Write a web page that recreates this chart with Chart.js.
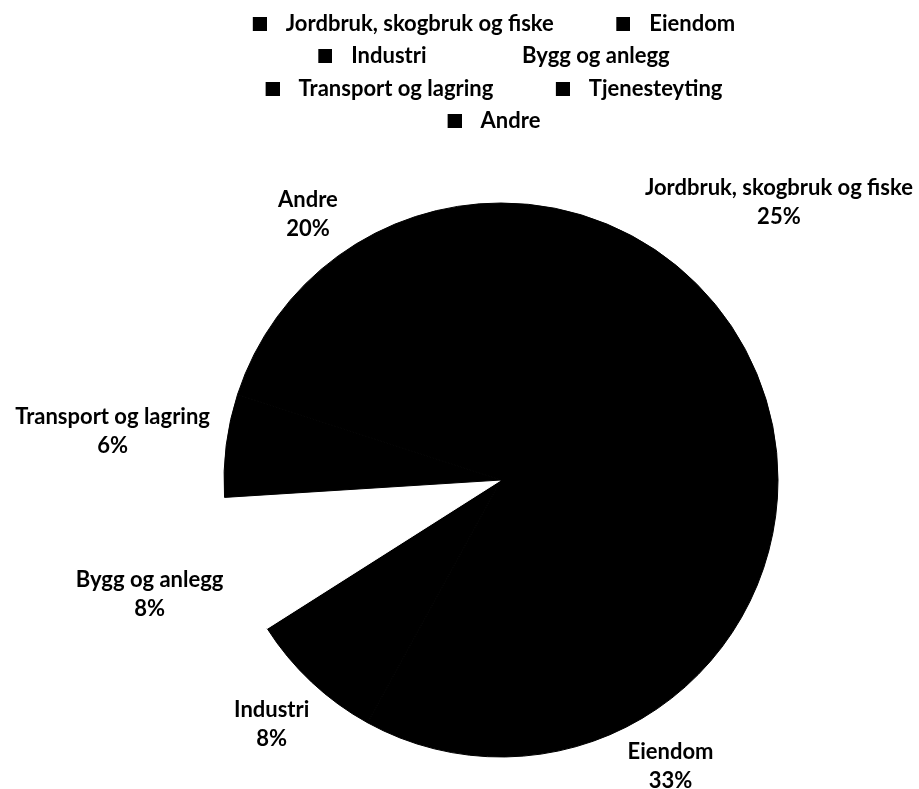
<!DOCTYPE html>
<html>
<head>
<meta charset="utf-8">
<script src="https://cdn.jsdelivr.net/npm/chart.js@4/dist/chart.umd.min.js"></script>
<style>
  html, body { margin: 0; padding: 0; background: #ffffff; }
  canvas { display: block; }
</style>
</head>
<body>
<canvas id="chart" width="919" height="789"></canvas>
<script>
// Sektorfordeling (andel i prosent)
const categories = [
  'Jordbruk, skogbruk og fiske',
  'Eiendom',
  'Industri',
  'Bygg og anlegg',
  'Transport og lagring',
  'Tjenesteyting',
  'Andre'
];
const shares = [25, 33, 8, 8, 6, 0, 20];
const sliceColors = ['#000000', '#000000', '#000000', '#ffffff', '#000000', '#000000', '#000000'];

const FONT_FAMILY = 'Lato, "Open Sans", sans-serif';
const FONT_SIZE = 22;

// Legend swatch: a 14px square at the right end of a wider transparent strip,
// which leaves a wide gap before each legend entry
function makeSwatch(color) {
  const c = document.createElement('canvas');
  c.width = 58;
  c.height = 14;
  const g = c.getContext('2d');
  g.fillStyle = color;
  g.fillRect(44, 0, 14, 14);
  return c;
}
const swatches = sliceColors.map(makeSwatch);

// Category name + percentage, placed on the radial line through the middle of each slice,
// pushed out until the text block clears the pie
const sliceLabels = {
  id: 'sliceLabels',
  afterDatasetsDraw(chart, args, opts) {
    const ctx = chart.ctx;
    const meta = chart.getDatasetMeta(0);
    const values = chart.data.datasets[0].data;
    const total = values.reduce((a, b) => a + b, 0);
    ctx.save();
    ctx.font = 'bold ' + opts.size + 'px ' + opts.family;
    ctx.fillStyle = opts.color;
    ctx.textAlign = 'center';
    ctx.textBaseline = 'middle';
    meta.data.forEach((arc, i) => {
      if (!values[i]) return;
      const p = arc.getProps(['x', 'y', 'startAngle', 'endAngle', 'outerRadius'], true);
      const mid = (p.startAngle + p.endAngle) / 2;
      const dx = Math.cos(mid);
      const dy = Math.sin(mid);
      const lines = [chart.data.labels[i], Math.round(values[i] / total * 100) + '%'];
      const hw = Math.max(...lines.map(t => ctx.measureText(t).width)) / 2;
      const hh = (opts.lineHeight * (lines.length - 1) + opts.size * 0.8) / 2;
      const R = p.outerRadius + opts.offset;
      let d = p.outerRadius;
      const clearance = () => {
        const cx = p.x + d * dx, cy = p.y + d * dy;
        const nx = Math.max(cx - hw, Math.min(p.x, cx + hw));
        const ny = Math.max(cy - hh, Math.min(p.y, cy + hh));
        return Math.hypot(nx - p.x, ny - p.y);
      };
      while (clearance() < R && d < 2000) d += 0.5;
      const cx = p.x + d * dx;
      const cy = p.y + d * dy;
      const firstY = cy - opts.lineHeight * (lines.length - 1) / 2;
      lines.forEach((t, k) => ctx.fillText(t, cx, firstY + k * opts.lineHeight));
    });
    ctx.restore();
  }
};

new Chart(document.getElementById('chart'), {
  type: 'pie',
  data: {
    labels: categories,
    datasets: [{
      data: shares,
      backgroundColor: sliceColors,
      borderColor: sliceColors,
      borderWidth: 1,
      radius: 277
    }]
  },
  options: {
    responsive: false,
    animation: false,
    layout: { padding: { left: 158, right: 141, top: 2, bottom: 0 } },
    plugins: {
      tooltip: { enabled: false },
      // empty titles act as spacers around the pie
      title: {
        display: true,
        position: 'left',
        text: '',
        padding: 27,
        font: { size: 10, lineHeight: 1.2 }
      },
      subtitle: {
        display: true,
        position: 'top',
        weight: 500,
        text: '',
        padding: 8.5,
        font: { size: 10, lineHeight: 1.2 }
      },
      legend: {
        position: 'top',
        onClick: null,
        labels: {
          usePointStyle: true,
          pointStyleWidth: 74,
          padding: 10.5,
          color: '#000000',
          font: { family: FONT_FAMILY, size: FONT_SIZE, weight: 'bold' },
          generateLabels(chart) {
            return chart.data.labels.map((text, i) => ({
              text: text,
              fillStyle: sliceColors[i],
              strokeStyle: sliceColors[i],
              lineWidth: 0,
              pointStyle: swatches[i],
              fontColor: '#000000',
              hidden: false,
              index: i
            }));
          }
        }
      },
      sliceLabels: {
        family: FONT_FAMILY,
        size: FONT_SIZE,
        lineHeight: 29,
        color: '#000000',
        offset: 15
      }
    }
  },
  plugins: [sliceLabels]
});
</script>
</body>
</html>
